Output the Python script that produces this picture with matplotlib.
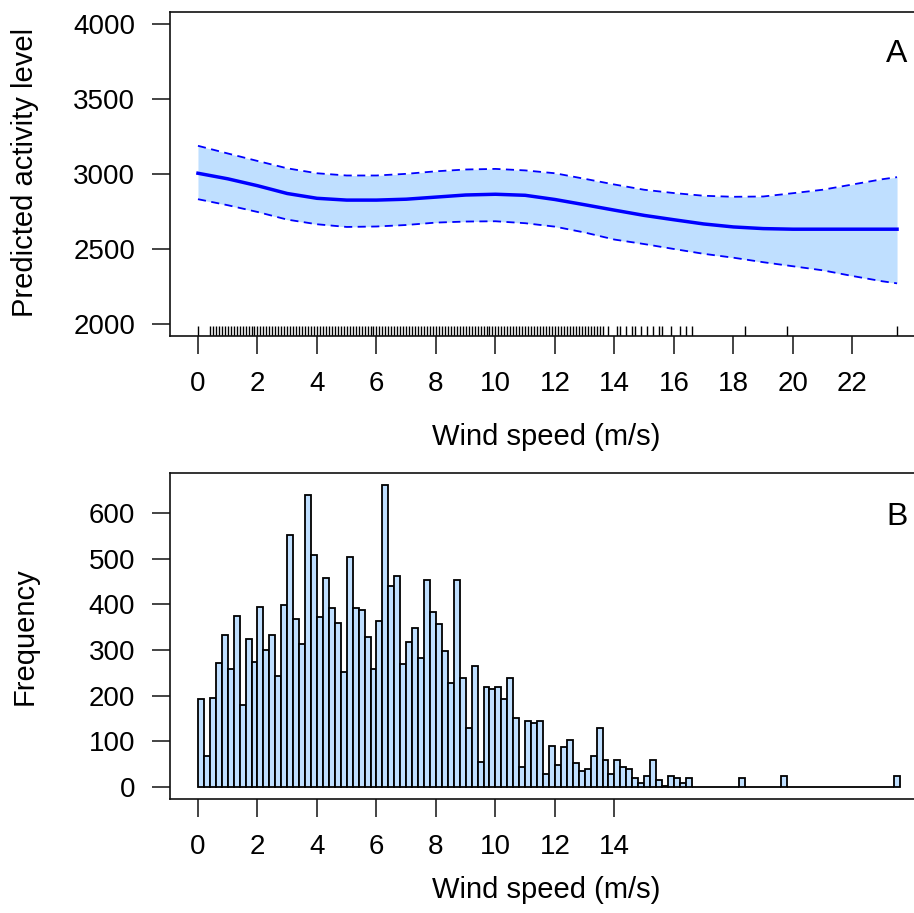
import numpy as np
import matplotlib

matplotlib.use("Agg")
import matplotlib.pyplot as plt

# --- panel A: smooth fit with confidence band -------------------------------
fit_wind = [0, 1, 2, 3, 4, 5, 6, 7, 8, 9, 10, 11, 12, 13, 14, 15, 16, 17, 18,
            19, 20, 21, 22, 23, 23.5]
fit_mid = [3005, 2968, 2922, 2870, 2838, 2826, 2826, 2832, 2846, 2860, 2865,
           2858, 2830, 2795, 2759, 2724, 2695, 2667, 2647, 2636, 2632, 2632,
           2632, 2632, 2632]
fit_upper = [3188, 3137, 3087, 3038, 3005, 2990, 2990, 3001, 3018, 3030, 3034,
             3024, 3005, 2968, 2930, 2895, 2873, 2855, 2848, 2850, 2872, 2895,
             2930, 2965, 2979]
fit_lower = [2832, 2792, 2747, 2696, 2665, 2647, 2650, 2660, 2676, 2683, 2685,
             2672, 2649, 2610, 2563, 2533, 2500, 2468, 2442, 2412, 2385, 2358,
             2320, 2285, 2271]

# observed wind speeds shown as a rug under panel A
rug_wind = [
    0.0,
    0.4, 0.5, 0.6, 0.7, 0.8, 0.9, 1.0, 1.1, 1.2, 1.3,
    1.4, 1.5, 1.6, 1.7, 1.8, 1.9, 2.0, 2.1, 2.2, 2.3,
    2.4, 2.5, 2.6, 2.7, 2.8, 2.9, 3.0, 3.1, 3.2, 3.3,
    3.4, 3.5, 3.6, 3.7, 3.8, 3.9, 4.0, 4.1, 4.2, 4.3,
    4.4, 4.5, 4.6, 4.7, 4.8, 4.9, 5.0, 5.1, 5.2, 5.3,
    5.4, 5.5, 5.6, 5.7, 5.8, 5.9, 6.0, 6.1, 6.2, 6.3,
    6.4, 6.5, 6.6, 6.7, 6.8, 6.9, 7.0, 7.1, 7.2, 7.3,
    7.4, 7.5, 7.6, 7.7, 7.8, 7.9, 8.0, 8.1, 8.2, 8.3,
    8.4, 8.5, 8.6, 8.7, 8.8, 8.9, 9.0, 9.1, 9.2, 9.3,
    9.4, 9.5, 9.6, 9.7, 9.8, 9.9, 10.0, 10.1, 10.2, 10.3,
    10.4, 10.5, 10.6, 10.7, 10.8, 10.9, 11.0, 11.1, 11.2, 11.3,
    11.4, 11.5, 11.6, 11.7, 11.8, 11.9, 12.0, 12.1, 12.2, 12.3,
    12.4, 12.5, 12.6, 12.7, 12.8, 12.9, 13.0, 13.1, 13.2, 13.3,
    13.4, 13.5, 13.6, 13.8, 14.1, 14.2, 14.4, 14.6, 14.7, 14.9,
    15.1, 15.3, 15.5, 15.6, 15.9, 16.2, 16.4, 16.6,
    18.4, 19.8, 23.5,
]

# --- panel B: histogram of wind speed (0.2 m/s bins starting at 0) ----------
bin_width = 0.2
hist_counts = [
    192, 68, 195, 271, 333, 258, 375, 179, 324, 274,
    395, 301, 333, 243, 398, 551, 367, 314, 640, 508,
    372, 457, 392, 360, 251, 503, 392, 387, 328, 258,
    363, 661, 441, 462, 270, 317, 348, 282, 454, 383,
    356, 298, 227, 453, 238, 130, 266, 55, 219, 214,
    219, 192, 238, 150, 44, 145, 141, 145, 28, 90,
    48, 87, 102, 52, 36, 40, 68, 130, 59, 28,
    59, 44, 39, 20, 8, 24, 59, 16, 3, 24,
    20, 8, 20, 0, 0, 0, 0, 0, 0, 0,
    0, 20, 0, 0, 0, 0, 0, 0, 24, 0,
    0, 0, 0, 0, 0, 0, 0, 0, 0, 0,
    0, 0, 0, 0, 0, 0, 0, 24,
]

top_ticks = [0, 2, 4, 6, 8, 10, 12, 14, 16, 18, 20, 22]
bottom_ticks = [0, 2, 4, 6, 8, 10, 12, 14]
activity_ticks = [2000, 2500, 3000, 3500, 4000]
freq_ticks = [0, 100, 200, 300, 400, 500, 600]

BAND = "#BFDFFF"
LINE = "#0000FF"

W, H = 914, 913


def style_axes(ax):
    ax.spines["right"].set_visible(False)
    for side in ("top", "left", "bottom"):
        ax.spines[side].set_linewidth(1.2)
        ax.spines[side].set_color("#111111")
    ax.tick_params(axis="both", direction="out", length=13, width=1.1,
                   labelsize=20, pad=12, color="#111111")


def main():
    plt.rcParams["font.family"] = ["Liberation Sans", "DejaVu Sans"]
    fig = plt.figure(figsize=(W / 100, H / 100), dpi=100)

    xlim = (-0.94, 24.44)

    # panel A
    ax1 = fig.add_axes([170 / W, 1 - 336 / H, 755 / W, 324 / H])
    ax1.fill_between(fit_wind, fit_lower, fit_upper, color=BAND, lw=0)
    ax1.plot(fit_wind, fit_upper, color=LINE, lw=1.3, dashes=(4.5, 3))
    ax1.plot(fit_wind, fit_lower, color=LINE, lw=1.3, dashes=(4.5, 3))
    ax1.plot(fit_wind, fit_mid, color=LINE, lw=2.5)
    ax1.vlines(rug_wind, 0, 0.03, transform=ax1.get_xaxis_transform(),
               color="black", lw=1.0)
    ax1.set_xlim(*xlim)
    ax1.set_ylim(1920, 4080)
    ax1.set_xticks(top_ticks)
    ax1.set_yticks(activity_ticks)
    style_axes(ax1)
    ax1.text(897 / W, 1 - 54 / H, "A", transform=fig.transFigure,
             fontsize=23, ha="center", va="center")

    # panel B
    ax2 = fig.add_axes([170 / W, 1 - 799 / H, 755 / W, 326 / H])
    left_edges = np.arange(len(hist_counts)) * bin_width
    ax2.bar(left_edges, hist_counts, width=bin_width, align="edge",
            color=BAND, edgecolor="black", linewidth=1.3)
    ax2.set_xlim(*xlim)
    ax2.set_ylim(-26.4, 687.8)
    ax2.set_xticks(bottom_ticks)
    ax2.set_yticks(freq_ticks)
    style_axes(ax2)
    ax2.text(897 / W, 1 - 517 / H, "B", transform=fig.transFigure,
             fontsize=23, ha="center", va="center")

    # axis titles placed in figure pixels
    fig.text(25 / W, 1 - 172 / H, "Predicted activity level", rotation=90,
             fontsize=21, ha="center", va="center")
    fig.text(25 / W, 1 - 636 / H, "Frequency", rotation=90,
             fontsize=21, ha="center", va="center")
    fig.text(546 / W, 1 - 437 / H, "Wind speed (m/s)",
             fontsize=21, ha="center", va="center")
    fig.text(546 / W, 1 - 890 / H, "Wind speed (m/s)",
             fontsize=21, ha="center", va="center")

    fig.savefig("out.png", dpi=100, facecolor="white")


if __name__ == "__main__":
    main()
